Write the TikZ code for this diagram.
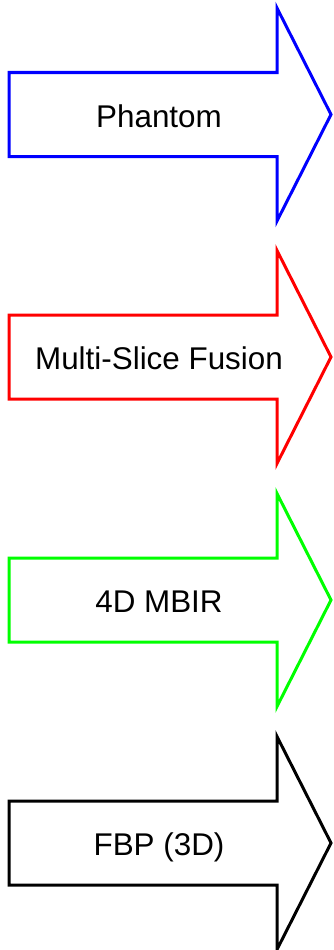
\documentclass[tikz,border=0pt]{standalone}
\usepackage{fontspec}
\setmainfont{Liberation Sans}
\definecolor{arrblue}{RGB}{0,0,255}
\definecolor{arrred}{RGB}{255,0,0}
\definecolor{arrgreen}{RGB}{0,255,0}
\tikzset{
  block arrow/.style={line width=3pt, line join=miter, fill=white},
  arrow label/.style={font=\fontsize{31.4}{36}\selectfont, inner sep=0pt, anchor=base}
}
\begin{document}
\begin{tikzpicture}[x=1pt,y=1pt]
\useasboundingbox (0,0) rectangle (333,-950);
% each entry: centre line y / outline colour / label / node name
\foreach \cy/\col/\txt/\nm in {114.5/arrblue/Phantom/phantom,
                                357/arrred/Multi-Slice Fusion/msf,
                                600/arrgreen/4D MBIR/mbir,
                                843/black/FBP (3D)/fbp}{
  \draw[block arrow, draw=\col]
    (9,-\cy+42) -- (277,-\cy+42) -- (277,-\cy+106.5) -- (331,-\cy)
    -- (277,-\cy-106.5) -- (277,-\cy-42) -- (9,-\cy-42) -- cycle;
  \node[arrow label] (\nm) at (159,-\cy-12.8) {\txt};
}
\end{tikzpicture}
\end{document}
